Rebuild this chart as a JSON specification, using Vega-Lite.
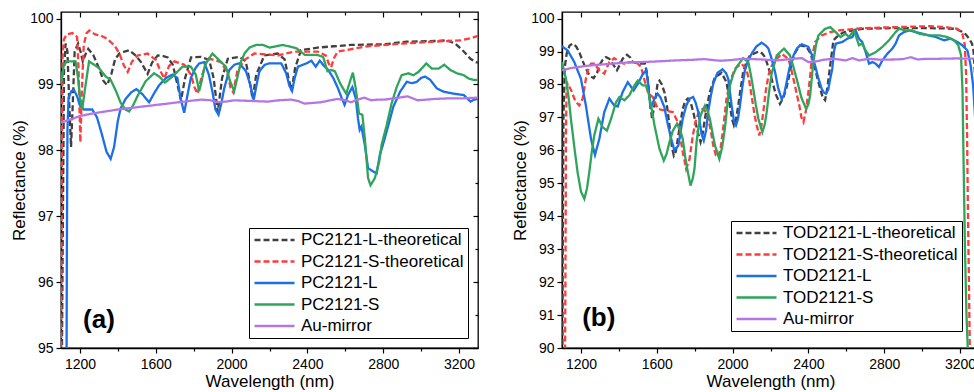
{
"$schema": "https://vega.github.io/schema/vega-lite/v6.json",
"padding": {"left": 9, "top": 10, "right": 0, "bottom": 0},
"spacing": 30,
"config": {
  "font": "Liberation Sans",
  "view": {"stroke": "black", "strokeWidth": 1.3},
  "axis": {"domainColor": "black", "domainWidth": 1.3, "tickColor": "black", "tickWidth": 1.2, "labelColor": "black", "titleColor": "black", "labelFontSize": 14, "titleFontSize": 17, "titleFontWeight": "normal", "grid": false, "labelFont": "Liberation Sans", "titleFont": "Liberation Sans", "labelPadding": 4},
  "legend": {"orient": "bottom-right", "offset": 10, "strokeColor": "black", "fillColor": "white", "padding": 4, "labelFontSize": 17, "labelFont": "Liberation Sans", "labelColor": "black", "symbolType": "stroke", "symbolSize": 1600, "symbolStrokeWidth": 2.5, "clipHeight": 16, "rowPadding": 4.5, "labelOffset": 5, "labelLimit": 300}
},
"datasets": {
"a": [
{"s":"PC2121-L-theoretical","w":1104,"r":94.5},{"s":"PC2121-L-theoretical","w":1110,"r":97.0},{"s":"PC2121-L-theoretical","w":1116,"r":99.2},{"s":"PC2121-L-theoretical","w":1124,"r":99.62},{"s":"PC2121-L-theoretical","w":1134,"r":99.5},{"s":"PC2121-L-theoretical","w":1145,"r":98.6},{"s":"PC2121-L-theoretical","w":1153,"r":98.05},{"s":"PC2121-L-theoretical","w":1162,"r":98.7},{"s":"PC2121-L-theoretical","w":1172,"r":99.5},{"s":"PC2121-L-theoretical","w":1190,"r":99.62},{"s":"PC2121-L-theoretical","w":1203,"r":99.5},{"s":"PC2121-L-theoretical","w":1215,"r":99.35},{"s":"PC2121-L-theoretical","w":1228,"r":99.45},{"s":"PC2121-L-theoretical","w":1244,"r":99.54},{"s":"PC2121-L-theoretical","w":1270,"r":99.45},{"s":"PC2121-L-theoretical","w":1300,"r":99.25},{"s":"PC2121-L-theoretical","w":1325,"r":99.05},{"s":"PC2121-L-theoretical","w":1343,"r":98.99},{"s":"PC2121-L-theoretical","w":1365,"r":99.15},{"s":"PC2121-L-theoretical","w":1385,"r":99.38},{"s":"PC2121-L-theoretical","w":1408,"r":99.47},{"s":"PC2121-L-theoretical","w":1435,"r":99.5},{"s":"PC2121-L-theoretical","w":1460,"r":99.52},{"s":"PC2121-L-theoretical","w":1490,"r":99.45},{"s":"PC2121-L-theoretical","w":1522,"r":99.34},{"s":"PC2121-L-theoretical","w":1557,"r":99.16},{"s":"PC2121-L-theoretical","w":1580,"r":99.33},{"s":"PC2121-L-theoretical","w":1610,"r":99.44},{"s":"PC2121-L-theoretical","w":1640,"r":99.43},{"s":"PC2121-L-theoretical","w":1663,"r":99.41},{"s":"PC2121-L-theoretical","w":1690,"r":99.3},{"s":"PC2121-L-theoretical","w":1710,"r":99.05},{"s":"PC2121-L-theoretical","w":1733,"r":98.76},{"s":"PC2121-L-theoretical","w":1755,"r":99.1},{"s":"PC2121-L-theoretical","w":1786,"r":99.41},{"s":"PC2121-L-theoretical","w":1839,"r":99.42},{"s":"PC2121-L-theoretical","w":1882,"r":99.37},{"s":"PC2121-L-theoretical","w":1905,"r":99.1},{"s":"PC2121-L-theoretical","w":1927,"r":98.58},{"s":"PC2121-L-theoretical","w":1950,"r":99.1},{"s":"PC2121-L-theoretical","w":1980,"r":99.39},{"s":"PC2121-L-theoretical","w":2041,"r":99.42},{"s":"PC2121-L-theoretical","w":2075,"r":99.35},{"s":"PC2121-L-theoretical","w":2095,"r":99.05},{"s":"PC2121-L-theoretical","w":2111,"r":98.78},{"s":"PC2121-L-theoretical","w":2130,"r":99.15},{"s":"PC2121-L-theoretical","w":2173,"r":99.44},{"s":"PC2121-L-theoretical","w":2243,"r":99.47},{"s":"PC2121-L-theoretical","w":2280,"r":99.38},{"s":"PC2121-L-theoretical","w":2300,"r":99.1},{"s":"PC2121-L-theoretical","w":2317,"r":98.91},{"s":"PC2121-L-theoretical","w":2335,"r":99.25},{"s":"PC2121-L-theoretical","w":2366,"r":99.52},{"s":"PC2121-L-theoretical","w":2454,"r":99.56},{"s":"PC2121-L-theoretical","w":2540,"r":99.58},{"s":"PC2121-L-theoretical","w":2630,"r":99.6},{"s":"PC2121-L-theoretical","w":2806,"r":99.61},{"s":"PC2121-L-theoretical","w":2924,"r":99.65},{"s":"PC2121-L-theoretical","w":3083,"r":99.66},{"s":"PC2121-L-theoretical","w":3136,"r":99.67},{"s":"PC2121-L-theoretical","w":3180,"r":99.62},{"s":"PC2121-L-theoretical","w":3225,"r":99.5},{"s":"PC2121-L-theoretical","w":3260,"r":99.39},{"s":"PC2121-L-theoretical","w":3287,"r":99.34},{"s":"PC2121-L-theoretical","w":3300,"r":99.33},
{"s":"PC2121-S-theoretical","w":1100,"r":94.6},{"s":"PC2121-S-theoretical","w":1104,"r":97.5},{"s":"PC2121-S-theoretical","w":1108,"r":99.4},{"s":"PC2121-S-theoretical","w":1115,"r":99.68},{"s":"PC2121-S-theoretical","w":1130,"r":99.76},{"s":"PC2121-S-theoretical","w":1160,"r":99.78},{"s":"PC2121-S-theoretical","w":1185,"r":99.72},{"s":"PC2121-S-theoretical","w":1193,"r":99.2},{"s":"PC2121-S-theoretical","w":1202,"r":98.12},{"s":"PC2121-S-theoretical","w":1210,"r":98.9},{"s":"PC2121-S-theoretical","w":1220,"r":99.6},{"s":"PC2121-S-theoretical","w":1235,"r":99.78},{"s":"PC2121-S-theoretical","w":1249,"r":99.82},{"s":"PC2121-S-theoretical","w":1280,"r":99.76},{"s":"PC2121-S-theoretical","w":1311,"r":99.74},{"s":"PC2121-S-theoretical","w":1340,"r":99.7},{"s":"PC2121-S-theoretical","w":1364,"r":99.64},{"s":"PC2121-S-theoretical","w":1385,"r":99.58},{"s":"PC2121-S-theoretical","w":1408,"r":99.47},{"s":"PC2121-S-theoretical","w":1430,"r":99.3},{"s":"PC2121-S-theoretical","w":1452,"r":99.19},{"s":"PC2121-S-theoretical","w":1475,"r":99.35},{"s":"PC2121-S-theoretical","w":1505,"r":99.44},{"s":"PC2121-S-theoretical","w":1557,"r":99.47},{"s":"PC2121-S-theoretical","w":1601,"r":99.37},{"s":"PC2121-S-theoretical","w":1625,"r":99.2},{"s":"PC2121-S-theoretical","w":1645,"r":99.09},{"s":"PC2121-S-theoretical","w":1670,"r":99.28},{"s":"PC2121-S-theoretical","w":1698,"r":99.35},{"s":"PC2121-S-theoretical","w":1750,"r":99.3},{"s":"PC2121-S-theoretical","w":1785,"r":99.15},{"s":"PC2121-S-theoretical","w":1805,"r":98.95},{"s":"PC2121-S-theoretical","w":1821,"r":98.86},{"s":"PC2121-S-theoretical","w":1840,"r":99.1},{"s":"PC2121-S-theoretical","w":1874,"r":99.4},{"s":"PC2121-S-theoretical","w":1944,"r":99.34},{"s":"PC2121-S-theoretical","w":1975,"r":99.2},{"s":"PC2121-S-theoretical","w":1995,"r":98.95},{"s":"PC2121-S-theoretical","w":2009,"r":98.88},{"s":"PC2121-S-theoretical","w":2030,"r":99.2},{"s":"PC2121-S-theoretical","w":2067,"r":99.37},{"s":"PC2121-S-theoretical","w":2120,"r":99.47},{"s":"PC2121-S-theoretical","w":2243,"r":99.44},{"s":"PC2121-S-theoretical","w":2331,"r":99.5},{"s":"PC2121-S-theoretical","w":2454,"r":99.5},{"s":"PC2121-S-theoretical","w":2498,"r":99.44},{"s":"PC2121-S-theoretical","w":2512,"r":99.32},{"s":"PC2121-S-theoretical","w":2525,"r":99.26},{"s":"PC2121-S-theoretical","w":2540,"r":99.4},{"s":"PC2121-S-theoretical","w":2560,"r":99.5},{"s":"PC2121-S-theoretical","w":2718,"r":99.58},{"s":"PC2121-S-theoretical","w":2894,"r":99.62},{"s":"PC2121-S-theoretical","w":3070,"r":99.65},{"s":"PC2121-S-theoretical","w":3210,"r":99.67},{"s":"PC2121-S-theoretical","w":3260,"r":99.7},{"s":"PC2121-S-theoretical","w":3300,"r":99.74},
{"s":"PC2121-L","w":1128,"r":93.5},{"s":"PC2121-L","w":1131,"r":96.5},{"s":"PC2121-L","w":1134,"r":98.3},{"s":"PC2121-L","w":1140,"r":98.8},{"s":"PC2121-L","w":1155,"r":98.9},{"s":"PC2121-L","w":1168,"r":98.92},{"s":"PC2121-L","w":1185,"r":98.82},{"s":"PC2121-L","w":1200,"r":98.68},{"s":"PC2121-L","w":1221,"r":98.62},{"s":"PC2121-L","w":1265,"r":98.62},{"s":"PC2121-L","w":1290,"r":98.5},{"s":"PC2121-L","w":1315,"r":98.25},{"s":"PC2121-L","w":1340,"r":97.98},{"s":"PC2121-L","w":1362,"r":97.87},{"s":"PC2121-L","w":1380,"r":98.05},{"s":"PC2121-L","w":1400,"r":98.45},{"s":"PC2121-L","w":1415,"r":98.64},{"s":"PC2121-L","w":1441,"r":98.78},{"s":"PC2121-L","w":1470,"r":98.88},{"s":"PC2121-L","w":1498,"r":98.93},{"s":"PC2121-L","w":1530,"r":98.85},{"s":"PC2121-L","w":1565,"r":98.73},{"s":"PC2121-L","w":1590,"r":98.86},{"s":"PC2121-L","w":1618,"r":98.99},{"s":"PC2121-L","w":1655,"r":99.1},{"s":"PC2121-L","w":1688,"r":99.15},{"s":"PC2121-L","w":1714,"r":99.1},{"s":"PC2121-L","w":1730,"r":98.8},{"s":"PC2121-L","w":1750,"r":98.57},{"s":"PC2121-L","w":1768,"r":98.85},{"s":"PC2121-L","w":1785,"r":99.1},{"s":"PC2121-L","w":1810,"r":99.25},{"s":"PC2121-L","w":1829,"r":99.32},{"s":"PC2121-L","w":1855,"r":99.34},{"s":"PC2121-L","w":1880,"r":99.15},{"s":"PC2121-L","w":1899,"r":98.89},{"s":"PC2121-L","w":1915,"r":98.62},{"s":"PC2121-L","w":1931,"r":98.54},{"s":"PC2121-L","w":1945,"r":98.7},{"s":"PC2121-L","w":1961,"r":98.94},{"s":"PC2121-L","w":1988,"r":99.22},{"s":"PC2121-L","w":2015,"r":99.3},{"s":"PC2121-L","w":2041,"r":99.32},{"s":"PC2121-L","w":2076,"r":99.2},{"s":"PC2121-L","w":2098,"r":99.0},{"s":"PC2121-L","w":2117,"r":98.77},{"s":"PC2121-L","w":2132,"r":99.0},{"s":"PC2121-L","w":2147,"r":99.2},{"s":"PC2121-L","w":2175,"r":99.3},{"s":"PC2121-L","w":2200,"r":99.32},{"s":"PC2121-L","w":2262,"r":99.32},{"s":"PC2121-L","w":2288,"r":99.17},{"s":"PC2121-L","w":2305,"r":98.98},{"s":"PC2121-L","w":2319,"r":98.9},{"s":"PC2121-L","w":2333,"r":99.1},{"s":"PC2121-L","w":2350,"r":99.27},{"s":"PC2121-L","w":2395,"r":99.32},{"s":"PC2121-L","w":2421,"r":99.36},{"s":"PC2121-L","w":2444,"r":99.27},{"s":"PC2121-L","w":2465,"r":99.36},{"s":"PC2121-L","w":2492,"r":99.27},{"s":"PC2121-L","w":2510,"r":99.22},{"s":"PC2121-L","w":2536,"r":99.1},{"s":"PC2121-L","w":2560,"r":98.95},{"s":"PC2121-L","w":2580,"r":98.8},{"s":"PC2121-L","w":2596,"r":98.69},{"s":"PC2121-L","w":2614,"r":98.84},{"s":"PC2121-L","w":2637,"r":98.96},{"s":"PC2121-L","w":2655,"r":98.79},{"s":"PC2121-L","w":2667,"r":98.48},{"s":"PC2121-L","w":2676,"r":98.31},{"s":"PC2121-L","w":2685,"r":98.36},{"s":"PC2121-L","w":2703,"r":98.08},{"s":"PC2121-L","w":2720,"r":97.73},{"s":"PC2121-L","w":2747,"r":97.68},{"s":"PC2121-L","w":2765,"r":97.65},{"s":"PC2121-L","w":2782,"r":97.93},{"s":"PC2121-L","w":2800,"r":98.1},{"s":"PC2121-L","w":2827,"r":98.38},{"s":"PC2121-L","w":2853,"r":98.66},{"s":"PC2121-L","w":2889,"r":98.89},{"s":"PC2121-L","w":2924,"r":99.04},{"s":"PC2121-L","w":2950,"r":99.02},{"s":"PC2121-L","w":2977,"r":99.04},{"s":"PC2121-L","w":3000,"r":99.1},{"s":"PC2121-L","w":3021,"r":99.12},{"s":"PC2121-L","w":3048,"r":99.07},{"s":"PC2121-L","w":3083,"r":98.94},{"s":"PC2121-L","w":3119,"r":98.89},{"s":"PC2121-L","w":3172,"r":98.86},{"s":"PC2121-L","w":3225,"r":98.84},{"s":"PC2121-L","w":3260,"r":98.74},{"s":"PC2121-L","w":3280,"r":98.77},{"s":"PC2121-L","w":3300,"r":98.78},
{"s":"PC2121-S","w":1100,"r":99.0},{"s":"PC2121-S","w":1115,"r":99.3},{"s":"PC2121-S","w":1133,"r":99.35},{"s":"PC2121-S","w":1177,"r":99.35},{"s":"PC2121-S","w":1190,"r":99.1},{"s":"PC2121-S","w":1200,"r":98.8},{"s":"PC2121-S","w":1212,"r":98.62},{"s":"PC2121-S","w":1225,"r":98.9},{"s":"PC2121-S","w":1248,"r":99.35},{"s":"PC2121-S","w":1275,"r":99.3},{"s":"PC2121-S","w":1300,"r":99.25},{"s":"PC2121-S","w":1336,"r":99.12},{"s":"PC2121-S","w":1362,"r":99.07},{"s":"PC2121-S","w":1390,"r":98.9},{"s":"PC2121-S","w":1415,"r":98.72},{"s":"PC2121-S","w":1440,"r":98.62},{"s":"PC2121-S","w":1459,"r":98.59},{"s":"PC2121-S","w":1480,"r":98.68},{"s":"PC2121-S","w":1503,"r":98.82},{"s":"PC2121-S","w":1547,"r":99.05},{"s":"PC2121-S","w":1591,"r":99.17},{"s":"PC2121-S","w":1618,"r":99.12},{"s":"PC2121-S","w":1649,"r":99.03},{"s":"PC2121-S","w":1688,"r":99.12},{"s":"PC2121-S","w":1741,"r":99.27},{"s":"PC2121-S","w":1785,"r":99.27},{"s":"PC2121-S","w":1811,"r":99.15},{"s":"PC2121-S","w":1829,"r":98.9},{"s":"PC2121-S","w":1842,"r":99.05},{"s":"PC2121-S","w":1860,"r":99.3},{"s":"PC2121-S","w":1899,"r":99.47},{"s":"PC2121-S","w":1934,"r":99.37},{"s":"PC2121-S","w":1970,"r":99.27},{"s":"PC2121-S","w":1992,"r":99.05},{"s":"PC2121-S","w":2014,"r":98.9},{"s":"PC2121-S","w":2030,"r":99.1},{"s":"PC2121-S","w":2050,"r":99.35},{"s":"PC2121-S","w":2070,"r":99.48},{"s":"PC2121-S","w":2094,"r":99.56},{"s":"PC2121-S","w":2130,"r":99.6},{"s":"PC2121-S","w":2165,"r":99.6},{"s":"PC2121-S","w":2200,"r":99.56},{"s":"PC2121-S","w":2235,"r":99.58},{"s":"PC2121-S","w":2271,"r":99.6},{"s":"PC2121-S","w":2342,"r":99.55},{"s":"PC2121-S","w":2386,"r":99.45},{"s":"PC2121-S","w":2448,"r":99.45},{"s":"PC2121-S","w":2483,"r":99.42},{"s":"PC2121-S","w":2506,"r":99.2},{"s":"PC2121-S","w":2527,"r":99.22},{"s":"PC2121-S","w":2545,"r":99.2},{"s":"PC2121-S","w":2572,"r":99.02},{"s":"PC2121-S","w":2588,"r":98.94},{"s":"PC2121-S","w":2605,"r":98.86},{"s":"PC2121-S","w":2625,"r":99.05},{"s":"PC2121-S","w":2640,"r":99.18},{"s":"PC2121-S","w":2655,"r":98.94},{"s":"PC2121-S","w":2672,"r":98.56},{"s":"PC2121-S","w":2690,"r":98.54},{"s":"PC2121-S","w":2703,"r":98.18},{"s":"PC2121-S","w":2720,"r":97.58},{"s":"PC2121-S","w":2733,"r":97.47},{"s":"PC2121-S","w":2756,"r":97.58},{"s":"PC2121-S","w":2779,"r":97.83},{"s":"PC2121-S","w":2791,"r":98.08},{"s":"PC2121-S","w":2818,"r":98.38},{"s":"PC2121-S","w":2844,"r":98.71},{"s":"PC2121-S","w":2871,"r":98.96},{"s":"PC2121-S","w":2897,"r":99.14},{"s":"PC2121-S","w":2933,"r":99.17},{"s":"PC2121-S","w":2959,"r":99.14},{"s":"PC2121-S","w":2986,"r":99.19},{"s":"PC2121-S","w":3027,"r":99.32},{"s":"PC2121-S","w":3057,"r":99.24},{"s":"PC2121-S","w":3092,"r":99.24},{"s":"PC2121-S","w":3122,"r":99.3},{"s":"PC2121-S","w":3154,"r":99.22},{"s":"PC2121-S","w":3189,"r":99.17},{"s":"PC2121-S","w":3225,"r":99.14},{"s":"PC2121-S","w":3251,"r":99.09},{"s":"PC2121-S","w":3278,"r":99.07},{"s":"PC2121-S","w":3300,"r":99.07},
{"s":"Au-mirror","w":1100,"r":98.42},{"s":"Au-mirror","w":1150,"r":98.47},{"s":"Au-mirror","w":1200,"r":98.52},{"s":"Au-mirror","w":1250,"r":98.55},{"s":"Au-mirror","w":1311,"r":98.58},{"s":"Au-mirror","w":1400,"r":98.62},{"s":"Au-mirror","w":1487,"r":98.65},{"s":"Au-mirror","w":1575,"r":98.68},{"s":"Au-mirror","w":1663,"r":98.71},{"s":"Au-mirror","w":1750,"r":98.74},{"s":"Au-mirror","w":1839,"r":98.77},{"s":"Au-mirror","w":1890,"r":98.76},{"s":"Au-mirror","w":1927,"r":98.73},{"s":"Au-mirror","w":1970,"r":98.74},{"s":"Au-mirror","w":2014,"r":98.76},{"s":"Au-mirror","w":2100,"r":98.75},{"s":"Au-mirror","w":2190,"r":98.74},{"s":"Au-mirror","w":2250,"r":98.76},{"s":"Au-mirror","w":2313,"r":98.77},{"s":"Au-mirror","w":2350,"r":98.75},{"s":"Au-mirror","w":2384,"r":98.71},{"s":"Au-mirror","w":2430,"r":98.72},{"s":"Au-mirror","w":2472,"r":98.73},{"s":"Au-mirror","w":2520,"r":98.76},{"s":"Au-mirror","w":2560,"r":98.78},{"s":"Au-mirror","w":2600,"r":98.76},{"s":"Au-mirror","w":2630,"r":98.73},{"s":"Au-mirror","w":2665,"r":98.77},{"s":"Au-mirror","w":2700,"r":98.8},{"s":"Au-mirror","w":2736,"r":98.76},{"s":"Au-mirror","w":2770,"r":98.77},{"s":"Au-mirror","w":2806,"r":98.77},{"s":"Au-mirror","w":2860,"r":98.79},{"s":"Au-mirror","w":2929,"r":98.82},{"s":"Au-mirror","w":2955,"r":98.79},{"s":"Au-mirror","w":2982,"r":98.76},{"s":"Au-mirror","w":3030,"r":98.77},{"s":"Au-mirror","w":3070,"r":98.78},{"s":"Au-mirror","w":3150,"r":98.79},{"s":"Au-mirror","w":3220,"r":98.79},{"s":"Au-mirror","w":3300,"r":98.8}
],
"b": [
{"s":"TOD2121-L-theoretical","w":1100,"r":86},{"s":"TOD2121-L-theoretical","w":1104,"r":93},{"s":"TOD2121-L-theoretical","w":1108,"r":97.0},{"s":"TOD2121-L-theoretical","w":1114,"r":98.5},{"s":"TOD2121-L-theoretical","w":1125,"r":98.95},{"s":"TOD2121-L-theoretical","w":1140,"r":99.18},{"s":"TOD2121-L-theoretical","w":1156,"r":99.24},{"s":"TOD2121-L-theoretical","w":1175,"r":99.15},{"s":"TOD2121-L-theoretical","w":1191,"r":98.98},{"s":"TOD2121-L-theoretical","w":1210,"r":98.7},{"s":"TOD2121-L-theoretical","w":1226,"r":98.48},{"s":"TOD2121-L-theoretical","w":1245,"r":98.27},{"s":"TOD2121-L-theoretical","w":1267,"r":98.19},{"s":"TOD2121-L-theoretical","w":1285,"r":98.35},{"s":"TOD2121-L-theoretical","w":1297,"r":98.58},{"s":"TOD2121-L-theoretical","w":1315,"r":98.75},{"s":"TOD2121-L-theoretical","w":1332,"r":98.83},{"s":"TOD2121-L-theoretical","w":1350,"r":98.78},{"s":"TOD2121-L-theoretical","w":1367,"r":98.63},{"s":"TOD2121-L-theoretical","w":1390,"r":98.43},{"s":"TOD2121-L-theoretical","w":1405,"r":98.6},{"s":"TOD2121-L-theoretical","w":1420,"r":98.78},{"s":"TOD2121-L-theoretical","w":1443,"r":98.9},{"s":"TOD2121-L-theoretical","w":1460,"r":98.82},{"s":"TOD2121-L-theoretical","w":1473,"r":98.68},{"s":"TOD2121-L-theoretical","w":1508,"r":98.63},{"s":"TOD2121-L-theoretical","w":1538,"r":98.63},{"s":"TOD2121-L-theoretical","w":1550,"r":98.3},{"s":"TOD2121-L-theoretical","w":1561,"r":97.67},{"s":"TOD2121-L-theoretical","w":1575,"r":96.96},{"s":"TOD2121-L-theoretical","w":1586,"r":97.3},{"s":"TOD2121-L-theoretical","w":1596,"r":97.67},{"s":"TOD2121-L-theoretical","w":1605,"r":98.07},{"s":"TOD2121-L-theoretical","w":1614,"r":98.12},{"s":"TOD2121-L-theoretical","w":1627,"r":98.0},{"s":"TOD2121-L-theoretical","w":1640,"r":97.77},{"s":"TOD2121-L-theoretical","w":1655,"r":97.3},{"s":"TOD2121-L-theoretical","w":1667,"r":96.76},{"s":"TOD2121-L-theoretical","w":1680,"r":96.1},{"s":"TOD2121-L-theoretical","w":1690,"r":95.84},{"s":"TOD2121-L-theoretical","w":1700,"r":95.95},{"s":"TOD2121-L-theoretical","w":1711,"r":96.35},{"s":"TOD2121-L-theoretical","w":1725,"r":96.85},{"s":"TOD2121-L-theoretical","w":1737,"r":97.26},{"s":"TOD2121-L-theoretical","w":1750,"r":97.5},{"s":"TOD2121-L-theoretical","w":1764,"r":97.57},{"s":"TOD2121-L-theoretical","w":1781,"r":97.41},{"s":"TOD2121-L-theoretical","w":1795,"r":97.1},{"s":"TOD2121-L-theoretical","w":1808,"r":96.75},{"s":"TOD2121-L-theoretical","w":1819,"r":96.5},{"s":"TOD2121-L-theoretical","w":1831,"r":96.25},{"s":"TOD2121-L-theoretical","w":1842,"r":96.5},{"s":"TOD2121-L-theoretical","w":1854,"r":96.96},{"s":"TOD2121-L-theoretical","w":1867,"r":97.4},{"s":"TOD2121-L-theoretical","w":1880,"r":97.77},{"s":"TOD2121-L-theoretical","w":1907,"r":98.22},{"s":"TOD2121-L-theoretical","w":1942,"r":98.35},{"s":"TOD2121-L-theoretical","w":1968,"r":98.07},{"s":"TOD2121-L-theoretical","w":1978,"r":97.7},{"s":"TOD2121-L-theoretical","w":1986,"r":97.36},{"s":"TOD2121-L-theoretical","w":1997,"r":96.95},{"s":"TOD2121-L-theoretical","w":2007,"r":96.76},{"s":"TOD2121-L-theoretical","w":2018,"r":96.95},{"s":"TOD2121-L-theoretical","w":2030,"r":97.36},{"s":"TOD2121-L-theoretical","w":2043,"r":97.9},{"s":"TOD2121-L-theoretical","w":2056,"r":98.38},{"s":"TOD2121-L-theoretical","w":2074,"r":98.7},{"s":"TOD2121-L-theoretical","w":2092,"r":98.88},{"s":"TOD2121-L-theoretical","w":2136,"r":99.0},{"s":"TOD2121-L-theoretical","w":2155,"r":98.95},{"s":"TOD2121-L-theoretical","w":2171,"r":98.83},{"s":"TOD2121-L-theoretical","w":2190,"r":98.5},{"s":"TOD2121-L-theoretical","w":2206,"r":98.17},{"s":"TOD2121-L-theoretical","w":2228,"r":97.7},{"s":"TOD2121-L-theoretical","w":2250,"r":97.41},{"s":"TOD2121-L-theoretical","w":2268,"r":97.6},{"s":"TOD2121-L-theoretical","w":2285,"r":97.92},{"s":"TOD2121-L-theoretical","w":2300,"r":98.3},{"s":"TOD2121-L-theoretical","w":2312,"r":98.68},{"s":"TOD2121-L-theoretical","w":2333,"r":99.0},{"s":"TOD2121-L-theoretical","w":2356,"r":99.19},{"s":"TOD2121-L-theoretical","w":2391,"r":99.14},{"s":"TOD2121-L-theoretical","w":2410,"r":98.95},{"s":"TOD2121-L-theoretical","w":2426,"r":98.68},{"s":"TOD2121-L-theoretical","w":2445,"r":98.25},{"s":"TOD2121-L-theoretical","w":2462,"r":97.87},{"s":"TOD2121-L-theoretical","w":2476,"r":97.6},{"s":"TOD2121-L-theoretical","w":2488,"r":97.52},{"s":"TOD2121-L-theoretical","w":2500,"r":97.9},{"s":"TOD2121-L-theoretical","w":2515,"r":98.58},{"s":"TOD2121-L-theoretical","w":2532,"r":99.34},{"s":"TOD2121-L-theoretical","w":2551,"r":99.45},{"s":"TOD2121-L-theoretical","w":2580,"r":99.57},{"s":"TOD2121-L-theoretical","w":2613,"r":99.62},{"s":"TOD2121-L-theoretical","w":2684,"r":99.69},{"s":"TOD2121-L-theoretical","w":2760,"r":99.7},{"s":"TOD2121-L-theoretical","w":2860,"r":99.71},{"s":"TOD2121-L-theoretical","w":3036,"r":99.71},{"s":"TOD2121-L-theoretical","w":3120,"r":99.7},{"s":"TOD2121-L-theoretical","w":3177,"r":99.69},{"s":"TOD2121-L-theoretical","w":3210,"r":99.6},{"s":"TOD2121-L-theoretical","w":3230,"r":99.52},{"s":"TOD2121-L-theoretical","w":3248,"r":99.39},{"s":"TOD2121-L-theoretical","w":3262,"r":99.25},{"s":"TOD2121-L-theoretical","w":3270,"r":99.1},{"s":"TOD2121-L-theoretical","w":3280,"r":98.2},{"s":"TOD2121-L-theoretical","w":3290,"r":95.5},{"s":"TOD2121-L-theoretical","w":3300,"r":90},
{"s":"TOD2121-S-theoretical","w":1108,"r":82},{"s":"TOD2121-S-theoretical","w":1114,"r":87},{"s":"TOD2121-S-theoretical","w":1118,"r":92},{"s":"TOD2121-S-theoretical","w":1121,"r":96.5},{"s":"TOD2121-S-theoretical","w":1124,"r":97.9},{"s":"TOD2121-S-theoretical","w":1130,"r":98.02},{"s":"TOD2121-S-theoretical","w":1150,"r":97.8},{"s":"TOD2121-S-theoretical","w":1170,"r":97.5},{"s":"TOD2121-S-theoretical","w":1191,"r":97.36},{"s":"TOD2121-S-theoretical","w":1209,"r":97.57},{"s":"TOD2121-S-theoretical","w":1226,"r":98.17},{"s":"TOD2121-S-theoretical","w":1240,"r":98.5},{"s":"TOD2121-S-theoretical","w":1253,"r":98.63},{"s":"TOD2121-S-theoretical","w":1270,"r":98.63},{"s":"TOD2121-S-theoretical","w":1297,"r":98.43},{"s":"TOD2121-S-theoretical","w":1323,"r":98.33},{"s":"TOD2121-S-theoretical","w":1350,"r":98.68},{"s":"TOD2121-S-theoretical","w":1376,"r":98.8},{"s":"TOD2121-S-theoretical","w":1403,"r":98.68},{"s":"TOD2121-S-theoretical","w":1429,"r":98.63},{"s":"TOD2121-S-theoretical","w":1455,"r":98.68},{"s":"TOD2121-S-theoretical","w":1491,"r":98.68},{"s":"TOD2121-S-theoretical","w":1517,"r":98.53},{"s":"TOD2121-S-theoretical","w":1538,"r":98.07},{"s":"TOD2121-S-theoretical","w":1556,"r":97.72},{"s":"TOD2121-S-theoretical","w":1579,"r":97.62},{"s":"TOD2121-S-theoretical","w":1605,"r":97.26},{"s":"TOD2121-S-theoretical","w":1640,"r":97.21},{"s":"TOD2121-S-theoretical","w":1685,"r":97.16},{"s":"TOD2121-S-theoretical","w":1711,"r":96.86},{"s":"TOD2121-S-theoretical","w":1737,"r":95.95},{"s":"TOD2121-S-theoretical","w":1755,"r":95.44},{"s":"TOD2121-S-theoretical","w":1773,"r":95.74},{"s":"TOD2121-S-theoretical","w":1790,"r":96.45},{"s":"TOD2121-S-theoretical","w":1808,"r":96.96},{"s":"TOD2121-S-theoretical","w":1827,"r":97.22},{"s":"TOD2121-S-theoretical","w":1845,"r":97.26},{"s":"TOD2121-S-theoretical","w":1860,"r":97.15},{"s":"TOD2121-S-theoretical","w":1871,"r":96.96},{"s":"TOD2121-S-theoretical","w":1885,"r":96.6},{"s":"TOD2121-S-theoretical","w":1898,"r":96.15},{"s":"TOD2121-S-theoretical","w":1912,"r":95.85},{"s":"TOD2121-S-theoretical","w":1924,"r":95.79},{"s":"TOD2121-S-theoretical","w":1938,"r":96.1},{"s":"TOD2121-S-theoretical","w":1955,"r":96.9},{"s":"TOD2121-S-theoretical","w":1968,"r":97.57},{"s":"TOD2121-S-theoretical","w":1986,"r":98.07},{"s":"TOD2121-S-theoretical","w":2012,"r":98.48},{"s":"TOD2121-S-theoretical","w":2048,"r":98.63},{"s":"TOD2121-S-theoretical","w":2074,"r":98.43},{"s":"TOD2121-S-theoretical","w":2088,"r":98.1},{"s":"TOD2121-S-theoretical","w":2100,"r":97.67},{"s":"TOD2121-S-theoretical","w":2115,"r":97.1},{"s":"TOD2121-S-theoretical","w":2127,"r":96.76},{"s":"TOD2121-S-theoretical","w":2141,"r":96.45},{"s":"TOD2121-S-theoretical","w":2152,"r":96.75},{"s":"TOD2121-S-theoretical","w":2162,"r":97.16},{"s":"TOD2121-S-theoretical","w":2175,"r":97.8},{"s":"TOD2121-S-theoretical","w":2189,"r":98.27},{"s":"TOD2121-S-theoretical","w":2205,"r":98.55},{"s":"TOD2121-S-theoretical","w":2224,"r":98.73},{"s":"TOD2121-S-theoretical","w":2259,"r":98.93},{"s":"TOD2121-S-theoretical","w":2294,"r":98.78},{"s":"TOD2121-S-theoretical","w":2308,"r":98.5},{"s":"TOD2121-S-theoretical","w":2321,"r":98.17},{"s":"TOD2121-S-theoretical","w":2337,"r":97.75},{"s":"TOD2121-S-theoretical","w":2352,"r":97.36},{"s":"TOD2121-S-theoretical","w":2363,"r":97.0},{"s":"TOD2121-S-theoretical","w":2374,"r":96.86},{"s":"TOD2121-S-theoretical","w":2387,"r":97.2},{"s":"TOD2121-S-theoretical","w":2400,"r":97.77},{"s":"TOD2121-S-theoretical","w":2410,"r":98.3},{"s":"TOD2121-S-theoretical","w":2418,"r":98.78},{"s":"TOD2121-S-theoretical","w":2435,"r":99.29},{"s":"TOD2121-S-theoretical","w":2470,"r":99.49},{"s":"TOD2121-S-theoretical","w":2515,"r":99.59},{"s":"TOD2121-S-theoretical","w":2561,"r":99.64},{"s":"TOD2121-S-theoretical","w":2684,"r":99.71},{"s":"TOD2121-S-theoretical","w":2860,"r":99.74},{"s":"TOD2121-S-theoretical","w":3036,"r":99.77},{"s":"TOD2121-S-theoretical","w":3124,"r":99.74},{"s":"TOD2121-S-theoretical","w":3186,"r":99.69},{"s":"TOD2121-S-theoretical","w":3212,"r":99.55},{"s":"TOD2121-S-theoretical","w":3225,"r":99.2},{"s":"TOD2121-S-theoretical","w":3232,"r":98.3},{"s":"TOD2121-S-theoretical","w":3237,"r":96.5},{"s":"TOD2121-S-theoretical","w":3242,"r":94},{"s":"TOD2121-S-theoretical","w":3248,"r":91.5},{"s":"TOD2121-S-theoretical","w":3256,"r":88},
{"s":"TOD2121-L","w":1100,"r":99.16},{"s":"TOD2121-L","w":1130,"r":99.03},{"s":"TOD2121-L","w":1165,"r":98.68},{"s":"TOD2121-L","w":1200,"r":98.17},{"s":"TOD2121-L","w":1226,"r":97.36},{"s":"TOD2121-L","w":1253,"r":96.35},{"s":"TOD2121-L","w":1274,"r":95.86},{"s":"TOD2121-L","w":1297,"r":96.35},{"s":"TOD2121-L","w":1323,"r":97.16},{"s":"TOD2121-L","w":1350,"r":97.57},{"s":"TOD2121-L","w":1376,"r":97.36},{"s":"TOD2121-L","w":1394,"r":97.33},{"s":"TOD2121-L","w":1420,"r":97.77},{"s":"TOD2121-L","w":1447,"r":98.07},{"s":"TOD2121-L","w":1478,"r":97.82},{"s":"TOD2121-L","w":1500,"r":98.02},{"s":"TOD2121-L","w":1525,"r":98.3},{"s":"TOD2121-L","w":1544,"r":98.43},{"s":"TOD2121-L","w":1555,"r":98.0},{"s":"TOD2121-L","w":1567,"r":97.26},{"s":"TOD2121-L","w":1588,"r":97.57},{"s":"TOD2121-L","w":1605,"r":97.72},{"s":"TOD2121-L","w":1620,"r":97.6},{"s":"TOD2121-L","w":1640,"r":97.31},{"s":"TOD2121-L","w":1658,"r":96.8},{"s":"TOD2121-L","w":1676,"r":96.35},{"s":"TOD2121-L","w":1693,"r":96.0},{"s":"TOD2121-L","w":1714,"r":96.15},{"s":"TOD2121-L","w":1737,"r":96.96},{"s":"TOD2121-L","w":1755,"r":97.35},{"s":"TOD2121-L","w":1773,"r":97.57},{"s":"TOD2121-L","w":1792,"r":97.62},{"s":"TOD2121-L","w":1805,"r":97.45},{"s":"TOD2121-L","w":1819,"r":97.16},{"s":"TOD2121-L","w":1836,"r":96.5},{"s":"TOD2121-L","w":1848,"r":96.3},{"s":"TOD2121-L","w":1860,"r":96.6},{"s":"TOD2121-L","w":1871,"r":97.16},{"s":"TOD2121-L","w":1885,"r":97.65},{"s":"TOD2121-L","w":1898,"r":98.02},{"s":"TOD2121-L","w":1920,"r":98.35},{"s":"TOD2121-L","w":1947,"r":98.46},{"s":"TOD2121-L","w":1965,"r":98.35},{"s":"TOD2121-L","w":1977,"r":98.17},{"s":"TOD2121-L","w":1995,"r":97.36},{"s":"TOD2121-L","w":2007,"r":96.9},{"s":"TOD2121-L","w":2018,"r":96.76},{"s":"TOD2121-L","w":2028,"r":96.95},{"s":"TOD2121-L","w":2039,"r":97.36},{"s":"TOD2121-L","w":2052,"r":97.95},{"s":"TOD2121-L","w":2065,"r":98.43},{"s":"TOD2121-L","w":2080,"r":98.7},{"s":"TOD2121-L","w":2100,"r":98.93},{"s":"TOD2121-L","w":2125,"r":99.15},{"s":"TOD2121-L","w":2153,"r":99.27},{"s":"TOD2121-L","w":2175,"r":99.18},{"s":"TOD2121-L","w":2189,"r":99.09},{"s":"TOD2121-L","w":2205,"r":98.8},{"s":"TOD2121-L","w":2224,"r":98.38},{"s":"TOD2121-L","w":2240,"r":97.9},{"s":"TOD2121-L","w":2259,"r":97.55},{"s":"TOD2121-L","w":2272,"r":97.7},{"s":"TOD2121-L","w":2285,"r":98.07},{"s":"TOD2121-L","w":2300,"r":98.5},{"s":"TOD2121-L","w":2321,"r":98.88},{"s":"TOD2121-L","w":2340,"r":99.1},{"s":"TOD2121-L","w":2365,"r":99.22},{"s":"TOD2121-L","w":2400,"r":99.14},{"s":"TOD2121-L","w":2418,"r":98.9},{"s":"TOD2121-L","w":2435,"r":98.58},{"s":"TOD2121-L","w":2452,"r":98.2},{"s":"TOD2121-L","w":2470,"r":97.87},{"s":"TOD2121-L","w":2482,"r":97.75},{"s":"TOD2121-L","w":2493,"r":97.72},{"s":"TOD2121-L","w":2505,"r":97.85},{"s":"TOD2121-L","w":2515,"r":98.17},{"s":"TOD2121-L","w":2526,"r":98.48},{"s":"TOD2121-L","w":2535,"r":99.0},{"s":"TOD2121-L","w":2544,"r":99.24},{"s":"TOD2121-L","w":2579,"r":99.29},{"s":"TOD2121-L","w":2605,"r":99.39},{"s":"TOD2121-L","w":2632,"r":99.44},{"s":"TOD2121-L","w":2649,"r":99.64},{"s":"TOD2121-L","w":2667,"r":99.39},{"s":"TOD2121-L","w":2684,"r":99.29},{"s":"TOD2121-L","w":2702,"r":98.98},{"s":"TOD2121-L","w":2720,"r":98.63},{"s":"TOD2121-L","w":2737,"r":98.68},{"s":"TOD2121-L","w":2755,"r":98.63},{"s":"TOD2121-L","w":2772,"r":98.53},{"s":"TOD2121-L","w":2790,"r":98.73},{"s":"TOD2121-L","w":2816,"r":98.93},{"s":"TOD2121-L","w":2843,"r":99.09},{"s":"TOD2121-L","w":2860,"r":99.24},{"s":"TOD2121-L","w":2878,"r":99.49},{"s":"TOD2121-L","w":2904,"r":99.59},{"s":"TOD2121-L","w":2931,"r":99.64},{"s":"TOD2121-L","w":2966,"r":99.59},{"s":"TOD2121-L","w":3001,"r":99.54},{"s":"TOD2121-L","w":3036,"r":99.49},{"s":"TOD2121-L","w":3072,"r":99.44},{"s":"TOD2121-L","w":3116,"r":99.34},{"s":"TOD2121-L","w":3151,"r":99.39},{"s":"TOD2121-L","w":3186,"r":99.29},{"s":"TOD2121-L","w":3212,"r":99.19},{"s":"TOD2121-L","w":3239,"r":99.03},{"s":"TOD2121-L","w":3256,"r":98.58},{"s":"TOD2121-L","w":3269,"r":97.97},{"s":"TOD2121-L","w":3285,"r":96.5},
{"s":"TOD2121-S","w":1100,"r":98.68},{"s":"TOD2121-S","w":1121,"r":98.17},{"s":"TOD2121-S","w":1135,"r":97.6},{"s":"TOD2121-S","w":1147,"r":96.96},{"s":"TOD2121-S","w":1165,"r":96.1},{"s":"TOD2121-S","w":1182,"r":95.34},{"s":"TOD2121-S","w":1200,"r":94.75},{"s":"TOD2121-S","w":1218,"r":94.53},{"s":"TOD2121-S","w":1232,"r":94.85},{"s":"TOD2121-S","w":1244,"r":95.34},{"s":"TOD2121-S","w":1257,"r":95.95},{"s":"TOD2121-S","w":1270,"r":96.45},{"s":"TOD2121-S","w":1292,"r":96.96},{"s":"TOD2121-S","w":1315,"r":96.7},{"s":"TOD2121-S","w":1337,"r":96.6},{"s":"TOD2121-S","w":1359,"r":96.96},{"s":"TOD2121-S","w":1385,"r":97.46},{"s":"TOD2121-S","w":1403,"r":97.62},{"s":"TOD2121-S","w":1429,"r":97.52},{"s":"TOD2121-S","w":1455,"r":97.67},{"s":"TOD2121-S","w":1482,"r":97.97},{"s":"TOD2121-S","w":1500,"r":98.12},{"s":"TOD2121-S","w":1526,"r":97.97},{"s":"TOD2121-S","w":1544,"r":97.97},{"s":"TOD2121-S","w":1556,"r":97.75},{"s":"TOD2121-S","w":1567,"r":97.46},{"s":"TOD2121-S","w":1588,"r":96.76},{"s":"TOD2121-S","w":1614,"r":96.05},{"s":"TOD2121-S","w":1637,"r":95.69},{"s":"TOD2121-S","w":1652,"r":95.9},{"s":"TOD2121-S","w":1667,"r":96.25},{"s":"TOD2121-S","w":1685,"r":96.6},{"s":"TOD2121-S","w":1707,"r":96.81},{"s":"TOD2121-S","w":1722,"r":96.65},{"s":"TOD2121-S","w":1737,"r":96.35},{"s":"TOD2121-S","w":1750,"r":95.8},{"s":"TOD2121-S","w":1764,"r":95.34},{"s":"TOD2121-S","w":1778,"r":94.93},{"s":"TOD2121-S","w":1790,"r":95.15},{"s":"TOD2121-S","w":1799,"r":95.44},{"s":"TOD2121-S","w":1810,"r":96.25},{"s":"TOD2121-S","w":1820,"r":96.7},{"s":"TOD2121-S","w":1831,"r":97.06},{"s":"TOD2121-S","w":1854,"r":97.36},{"s":"TOD2121-S","w":1868,"r":97.2},{"s":"TOD2121-S","w":1880,"r":96.96},{"s":"TOD2121-S","w":1895,"r":96.5},{"s":"TOD2121-S","w":1907,"r":96.15},{"s":"TOD2121-S","w":1930,"r":95.74},{"s":"TOD2121-S","w":1945,"r":96.1},{"s":"TOD2121-S","w":1959,"r":96.65},{"s":"TOD2121-S","w":1972,"r":97.35},{"s":"TOD2121-S","w":1986,"r":97.97},{"s":"TOD2121-S","w":2003,"r":98.3},{"s":"TOD2121-S","w":2021,"r":98.53},{"s":"TOD2121-S","w":2056,"r":98.8},{"s":"TOD2121-S","w":2083,"r":98.68},{"s":"TOD2121-S","w":2096,"r":98.3},{"s":"TOD2121-S","w":2109,"r":97.87},{"s":"TOD2121-S","w":2122,"r":97.4},{"s":"TOD2121-S","w":2136,"r":96.96},{"s":"TOD2121-S","w":2157,"r":96.55},{"s":"TOD2121-S","w":2170,"r":96.8},{"s":"TOD2121-S","w":2180,"r":97.16},{"s":"TOD2121-S","w":2193,"r":97.8},{"s":"TOD2121-S","w":2206,"r":98.33},{"s":"TOD2121-S","w":2233,"r":98.88},{"s":"TOD2121-S","w":2271,"r":99.09},{"s":"TOD2121-S","w":2303,"r":98.88},{"s":"TOD2121-S","w":2320,"r":98.55},{"s":"TOD2121-S","w":2338,"r":98.17},{"s":"TOD2121-S","w":2363,"r":97.6},{"s":"TOD2121-S","w":2388,"r":97.26},{"s":"TOD2121-S","w":2400,"r":97.4},{"s":"TOD2121-S","w":2409,"r":97.67},{"s":"TOD2121-S","w":2418,"r":98.2},{"s":"TOD2121-S","w":2426,"r":98.68},{"s":"TOD2121-S","w":2440,"r":99.2},{"s":"TOD2121-S","w":2453,"r":99.49},{"s":"TOD2121-S","w":2488,"r":99.69},{"s":"TOD2121-S","w":2515,"r":99.74},{"s":"TOD2121-S","w":2544,"r":99.59},{"s":"TOD2121-S","w":2570,"r":99.44},{"s":"TOD2121-S","w":2597,"r":99.54},{"s":"TOD2121-S","w":2614,"r":99.44},{"s":"TOD2121-S","w":2640,"r":99.64},{"s":"TOD2121-S","w":2649,"r":99.49},{"s":"TOD2121-S","w":2667,"r":99.19},{"s":"TOD2121-S","w":2684,"r":99.24},{"s":"TOD2121-S","w":2702,"r":99.03},{"s":"TOD2121-S","w":2720,"r":98.88},{"s":"TOD2121-S","w":2755,"r":98.98},{"s":"TOD2121-S","w":2790,"r":99.14},{"s":"TOD2121-S","w":2825,"r":99.34},{"s":"TOD2121-S","w":2860,"r":99.59},{"s":"TOD2121-S","w":2878,"r":99.69},{"s":"TOD2121-S","w":2913,"r":99.64},{"s":"TOD2121-S","w":2948,"r":99.64},{"s":"TOD2121-S","w":2984,"r":99.54},{"s":"TOD2121-S","w":3036,"r":99.49},{"s":"TOD2121-S","w":3089,"r":99.49},{"s":"TOD2121-S","w":3133,"r":99.44},{"s":"TOD2121-S","w":3168,"r":99.34},{"s":"TOD2121-S","w":3190,"r":99.2},{"s":"TOD2121-S","w":3205,"r":98.9},{"s":"TOD2121-S","w":3213,"r":97.8},{"s":"TOD2121-S","w":3219,"r":95.5},{"s":"TOD2121-S","w":3226,"r":93},{"s":"TOD2121-S","w":3234,"r":91},{"s":"TOD2121-S","w":3244,"r":89.5},
{"s":"Au-mirror","w":1100,"r":98.43},{"s":"Au-mirror","w":1150,"r":98.5},{"s":"Au-mirror","w":1200,"r":98.54},{"s":"Au-mirror","w":1253,"r":98.58},{"s":"Au-mirror","w":1340,"r":98.62},{"s":"Au-mirror","w":1429,"r":98.66},{"s":"Au-mirror","w":1520,"r":98.68},{"s":"Au-mirror","w":1605,"r":98.7},{"s":"Au-mirror","w":1700,"r":98.73},{"s":"Au-mirror","w":1792,"r":98.75},{"s":"Au-mirror","w":1850,"r":98.77},{"s":"Au-mirror","w":1933,"r":98.72},{"s":"Au-mirror","w":1990,"r":98.74},{"s":"Au-mirror","w":2056,"r":98.78},{"s":"Au-mirror","w":2150,"r":98.76},{"s":"Au-mirror","w":2233,"r":98.73},{"s":"Au-mirror","w":2321,"r":98.78},{"s":"Au-mirror","w":2366,"r":98.8},{"s":"Au-mirror","w":2400,"r":98.68},{"s":"Au-mirror","w":2440,"r":98.7},{"s":"Au-mirror","w":2480,"r":98.75},{"s":"Au-mirror","w":2532,"r":98.78},{"s":"Au-mirror","w":2597,"r":98.73},{"s":"Au-mirror","w":2632,"r":98.8},{"s":"Au-mirror","w":2667,"r":98.73},{"s":"Au-mirror","w":2720,"r":98.78},{"s":"Au-mirror","w":2780,"r":98.75},{"s":"Au-mirror","w":2860,"r":98.76},{"s":"Au-mirror","w":2900,"r":98.77},{"s":"Au-mirror","w":2940,"r":98.83},{"s":"Au-mirror","w":2975,"r":98.76},{"s":"Au-mirror","w":3030,"r":98.78},{"s":"Au-mirror","w":3089,"r":98.78},{"s":"Au-mirror","w":3180,"r":98.79},{"s":"Au-mirror","w":3300,"r":98.78}
]
},
"hconcat": [
{
  "width": 417, "height": 336,
  "layer": [
    {
      "data": {"name": "a"},
      "mark": {"type": "line", "clip": true, "strokeWidth": 2.3},
      "encoding": {
        "x": {"field": "w", "type": "quantitative", "scale": {"domain": [1100, 3300], "nice": false, "zero": false},
              "axis": {"title": "Wavelength (nm)", "values": [1200,1400,1600,1800,2000,2200,2400,2600,2800,3000,3200], "format": "d", "labelExpr": "datum.value % 400 === 0 ? datum.label : ''", "tickSize": {"condition": {"test": "datum.value % 400 === 0", "value": 5}, "value": 3}, "labelPadding": 4, "titlePadding": 2, "labelOverlap": false}},
        "y": {"field": "r", "type": "quantitative", "scale": {"domain": [95, 100.1], "nice": false, "zero": false},
              "axis": {"title": "Reflectance (%)", "values": [95,95.5,96,96.5,97,97.5,98,98.5,99,99.5,100], "format": "d", "labelExpr": "datum.value % 1 === 0 ? datum.label : ''", "tickSize": {"condition": {"test": "datum.value % 1 === 0", "value": 5}, "value": 3}, "labelPadding": 3, "titlePadding": 1, "labelOverlap": false}},
        "color": {"field": "s", "type": "nominal", "title": null,
                  "scale": {"domain": ["PC2121-L-theoretical","PC2121-S-theoretical","PC2121-L","PC2121-S","Au-mirror"], "range": ["#404040","#ff3b3b","#1b6fe8","#2fa55c","#b476e5"]}},
        "strokeDash": {"field": "s", "type": "nominal", "title": null,
                  "scale": {"domain": ["PC2121-L-theoretical","PC2121-S-theoretical","PC2121-L","PC2121-S","Au-mirror"], "range": [[6,3],[6,3],[1,0],[1,0],[1,0]]}}
      }
    },
    {
      "data": {"values": [{"w": 1300, "r": 95.43, "t": "(a)"}]},
      "mark": {"type": "text", "fontSize": 26, "fontWeight": "bold", "font": "Liberation Sans", "color": "black", "baseline": "middle", "align": "center"},
      "encoding": {
        "x": {"field": "w", "type": "quantitative", "scale": {"domain": [1100, 3300], "nice": false, "zero": false},
              "axis": {"orient": "top", "title": null, "labels": false, "domain": false, "values": [1200,1400,1600,1800,2000,2200,2400,2600,2800,3000,3200], "tickSize": {"condition": {"test": "datum.value % 400 === 0", "value": -5}, "value": -3}}},
        "y": {"field": "r", "type": "quantitative", "scale": {"domain": [95, 100.1], "nice": false, "zero": false},
              "axis": {"orient": "right", "title": null, "labels": false, "domain": false, "values": [95,95.5,96,96.5,97,97.5,98,98.5,99,99.5,100], "tickSize": {"condition": {"test": "datum.value % 1 === 0", "value": -5}, "value": -3}}},
        "text": {"field": "t"}
      }
    }
  ],
  "resolve": {"axis": {"x": "independent", "y": "independent"}}
},
{
  "width": 417, "height": 336,
  "layer": [
    {
      "data": {"name": "b"},
      "mark": {"type": "line", "clip": true, "strokeWidth": 2.3},
      "encoding": {
        "x": {"field": "w", "type": "quantitative", "scale": {"domain": [1100, 3300], "nice": false, "zero": false},
              "axis": {"title": "Wavelength (nm)", "values": [1200,1400,1600,1800,2000,2200,2400,2600,2800,3000,3200], "format": "d", "labelExpr": "datum.value % 400 === 0 ? datum.label : ''", "tickSize": {"condition": {"test": "datum.value % 400 === 0", "value": 5}, "value": 3}, "labelPadding": 4, "titlePadding": 2, "labelOverlap": false}},
        "y": {"field": "r", "type": "quantitative", "scale": {"domain": [90, 100.2], "nice": false, "zero": false},
              "axis": {"title": "Reflectance (%)", "values": [90,90.5,91,91.5,92,92.5,93,93.5,94,94.5,95,95.5,96,96.5,97,97.5,98,98.5,99,99.5,100], "format": "d", "labelExpr": "datum.value % 1 === 0 ? datum.label : ''", "tickSize": {"condition": {"test": "datum.value % 1 === 0", "value": 5}, "value": 3}, "labelPadding": 3, "titlePadding": 1, "labelOverlap": false}},
        "color": {"field": "s", "type": "nominal", "title": null, "legend": {"offset": 17},
                  "scale": {"domain": ["TOD2121-L-theoretical","TOD2121-S-theoretical","TOD2121-L","TOD2121-S","Au-mirror"], "range": ["#404040","#ff3b3b","#1b6fe8","#2fa55c","#b476e5"]}},
        "strokeDash": {"field": "s", "type": "nominal", "title": null, "legend": {"offset": 17},
                  "scale": {"domain": ["TOD2121-L-theoretical","TOD2121-S-theoretical","TOD2121-L","TOD2121-S","Au-mirror"], "range": [[6,3],[6,3],[1,0],[1,0],[1,0]]}}
      }
    },
    {
      "data": {"values": [{"w": 1294, "r": 90.9, "t": "(b)"}]},
      "mark": {"type": "text", "fontSize": 26, "fontWeight": "bold", "font": "Liberation Sans", "color": "black", "baseline": "middle", "align": "center"},
      "encoding": {
        "x": {"field": "w", "type": "quantitative", "scale": {"domain": [1100, 3300], "nice": false, "zero": false},
              "axis": {"orient": "top", "title": null, "labels": false, "domain": false, "values": [1200,1400,1600,1800,2000,2200,2400,2600,2800,3000,3200], "tickSize": {"condition": {"test": "datum.value % 400 === 0", "value": -5}, "value": -3}}},
        "y": {"field": "r", "type": "quantitative", "scale": {"domain": [90, 100.2], "nice": false, "zero": false},
              "axis": {"orient": "right", "title": null, "labels": false, "domain": false, "values": [90,90.5,91,91.5,92,92.5,93,93.5,94,94.5,95,95.5,96,96.5,97,97.5,98,98.5,99,99.5,100], "tickSize": {"condition": {"test": "datum.value % 1 === 0", "value": -5}, "value": -3}}},
        "text": {"field": "t"}
      }
    }
  ],
  "resolve": {"axis": {"x": "independent", "y": "independent"}}
}
],
"resolve": {"scale": {"color": "independent", "strokeDash": "independent", "x": "independent", "y": "independent"}, "legend": {"color": "independent", "strokeDash": "independent"}}
}
